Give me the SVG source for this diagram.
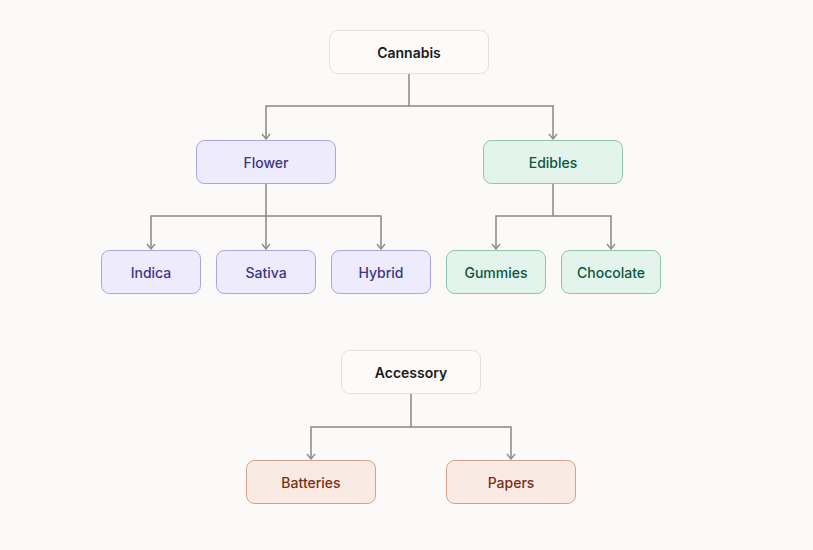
<svg xmlns="http://www.w3.org/2000/svg" width="813" height="550" viewBox="0 0 813 550">
<defs>
<marker id="arr" viewBox="0 0 10 10" refX="9" refY="5" markerWidth="10" markerHeight="10" markerUnits="userSpaceOnUse" orient="auto">
<path d="M4,1 L9,5 L4,9" fill="none" stroke="#8a8784" stroke-width="1.3"/>
</marker>
<style>
text{font-family:Inter,"Noto Sans","Liberation Sans",sans-serif;font-size:14px;text-anchor:middle;dominant-baseline:central;font-weight:500}
.root rect{fill:#fcfbfa;stroke:#e4e2de;stroke-width:1}
.root text{fill:#1a1a1a;font-weight:600}
.pur rect{fill:#eeecfc;stroke:#aaa4e4;stroke-width:1}
.pur text{fill:#3c3689}
.grn rect{fill:#e2f4ec;stroke:#8dc6ac;stroke-width:1}
.grn text{fill:#0e5540}
.org rect{fill:#f9ebe4;stroke:#d3a08c;stroke-width:1}
.org text{fill:#7a2e14}
.edges path{fill:none;stroke:#8a8784;stroke-width:1.5}
</style>
</defs>
<rect width="813" height="550" fill="#fbfaf8"/>
<g class="edges">
<path d="M409,74 V106 H266 V139" marker-end="url(#arr)"/>
<path d="M409,106 H553 V139" marker-end="url(#arr)"/>
<path d="M266,184 V216 H151 V249" marker-end="url(#arr)"/>
<path d="M266,216 V249" marker-end="url(#arr)"/>
<path d="M266,216 H381 V249" marker-end="url(#arr)"/>
<path d="M553,184 V216 H496 V249" marker-end="url(#arr)"/>
<path d="M553,216 H611 V249" marker-end="url(#arr)"/>
<path d="M411,394 V427 H311 V459" marker-end="url(#arr)"/>
<path d="M411,427 H511 V459" marker-end="url(#arr)"/>
</g>
<g id="cannabis" class="root"><rect x="329.5" y="30.5" width="159" height="43" rx="8"/><text x="409" y="52">Cannabis</text></g>
<g id="flower" class="pur"><rect x="196.5" y="140.5" width="139" height="43" rx="8"/><text x="266" y="162">Flower</text></g>
<g id="edibles" class="grn"><rect x="483.5" y="140.5" width="139" height="43" rx="8"/><text x="553" y="162">Edibles</text></g>
<g id="indica" class="pur"><rect x="101.5" y="250.5" width="99" height="43" rx="8"/><text x="151" y="272">Indica</text></g>
<g id="sativa" class="pur"><rect x="216.5" y="250.5" width="99" height="43" rx="8"/><text x="266" y="272">Sativa</text></g>
<g id="hybrid" class="pur"><rect x="331.5" y="250.5" width="99" height="43" rx="8"/><text x="381" y="272">Hybrid</text></g>
<g id="gummies" class="grn"><rect x="446.5" y="250.5" width="99" height="43" rx="8"/><text x="496" y="272">Gummies</text></g>
<g id="chocolate" class="grn"><rect x="561.5" y="250.5" width="99" height="43" rx="8"/><text x="611" y="272">Chocolate</text></g>
<g id="accessory" class="root"><rect x="341.5" y="350.5" width="139" height="43" rx="8"/><text x="411" y="372">Accessory</text></g>
<g id="batteries" class="org"><rect x="246.5" y="460.5" width="129" height="43" rx="8"/><text x="311" y="482">Batteries</text></g>
<g id="papers" class="org"><rect x="446.5" y="460.5" width="129" height="43" rx="8"/><text x="511" y="482">Papers</text></g>
</svg>
